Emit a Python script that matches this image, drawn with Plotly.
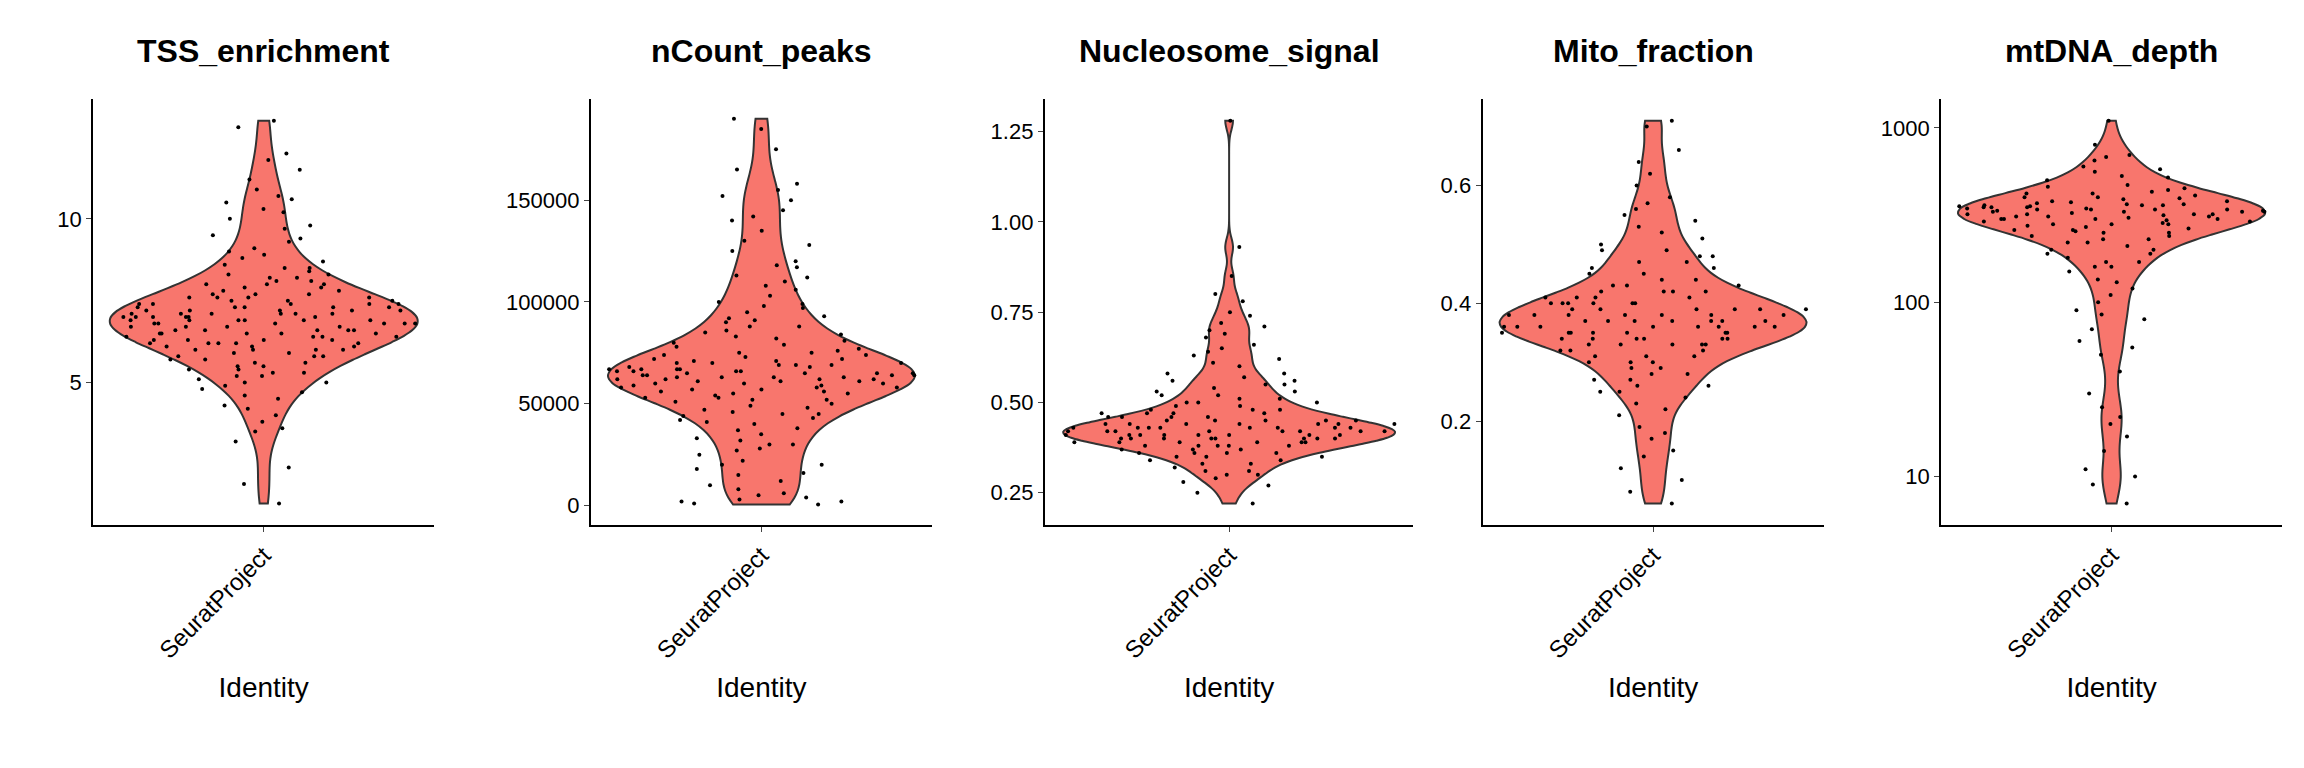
import numpy as np
import plotly.graph_objects as go

group = "SeuratProject"
titles = ["TSS_enrichment", "nCount_peaks", "Nucleosome_signal", "Mito_fraction", "mtDNA_depth"]

tss = [1.3, 1.9, 2.4, 3.2, 3.5, 3.8, 4.0, 4.3, 4.5, 4.7, 4.9, 5.0, 5.1, 5.2, 5.3, 5.4, 5.5, 5.5, 5.6, 5.7,
       5.8, 5.8, 5.9, 6.0, 6.0, 6.1, 6.1, 6.2, 6.2, 6.3, 6.3, 6.4, 6.4, 6.5, 6.5, 6.5, 6.6, 6.6, 6.7, 6.7,
       6.8, 6.8, 6.8, 6.9, 6.9, 6.9, 7.0, 7.0, 7.0, 7.1, 7.1, 7.1, 7.2, 7.2, 7.2, 7.3, 7.3, 7.4, 7.4, 7.5,
       7.5, 7.6, 7.6, 7.7, 7.7, 7.8, 7.9, 8.0, 8.0, 8.1, 8.2, 8.3, 8.4, 8.5, 8.6, 8.8, 9.0, 9.1, 9.3, 9.5,
       9.7, 10.0, 10.3, 10.5, 10.7, 10.9, 11.5, 11.8, 12.0, 12.8, 13.0, 6.6, 7.3, 6.2, 7.6, 5.9, 6.9, 7.1,
       4.6, 5.0, 5.3, 5.6, 5.8, 6.0, 6.2, 6.3, 6.4, 6.5, 6.6, 6.7, 6.8, 6.9, 7.0, 7.1, 7.2, 7.3, 7.4, 7.5,
       7.6, 7.8, 8.0, 8.2, 8.5, 8.9, 9.4, 10.2, 6.1, 6.5, 6.8, 7.0, 7.2, 7.4, 6.3, 6.7, 7.1, 5.7, 7.9, 8.3,
       4.8, 5.4, 6.0, 6.6, 7.0, 7.4, 8.1, 9.8, 10.6, 3.6, 4.2, 5.2, 6.4, 6.9, 7.3, 7.7, 8.7, 11.2, 6.2, 6.8]
ncount = [500, 1000, 2000, 3000, 5000, 8000, 10000, 15000, 18000, 20000, 22000, 25000, 28000, 30000, 32000,
          35000, 37000, 40000, 42000, 44000, 45000, 47000, 48000, 50000, 51000, 52000, 53000, 55000, 56000,
          57000, 58000, 59000, 60000, 60000, 61000, 62000, 62000, 63000, 63000, 64000, 64000, 65000, 65000,
          66000, 66000, 67000, 67000, 68000, 69000, 70000, 70000, 71000, 72000, 73000, 74000, 75000, 76000,
          78000, 80000, 82000, 84000, 86000, 88000, 90000, 92000, 95000, 98000, 100000, 103000, 106000,
          110000, 113000, 117000, 120000, 125000, 130000, 135000, 140000, 145000, 150000, 155000, 158000,
          165000, 175000, 185000, 190000, 58000, 63000, 67000, 61000, 65000, 69000, 55000, 64000,
          2000, 6000, 12000, 20000, 27000, 33000, 38000, 43000, 46000, 49000, 52000, 54000, 57000, 59000,
          61000, 63000, 64000, 66000, 68000, 70000, 72000, 75000, 79000, 83000, 88000, 93000, 99000, 108000,
          118000, 128000, 142000, 152000, 60000, 62000, 65000, 67000, 56000, 71000, 45000, 77000, 30000,
          85000, 97000, 112000, 4000, 16000, 41000, 53000, 58000, 62000, 66000, 69000, 74000, 81000, 91000]
nucleo = [0.22, 0.25, 0.27, 0.29, 0.30, 0.31, 0.32, 0.33, 0.34, 0.35, 0.35, 0.36, 0.36, 0.37, 0.37, 0.38,
          0.38, 0.38, 0.39, 0.39, 0.39, 0.40, 0.40, 0.40, 0.40, 0.41, 0.41, 0.41, 0.41, 0.42, 0.42, 0.42,
          0.42, 0.43, 0.43, 0.43, 0.43, 0.44, 0.44, 0.44, 0.45, 0.45, 0.45, 0.46, 0.46, 0.47, 0.47, 0.48,
          0.48, 0.49, 0.50, 0.50, 0.51, 0.52, 0.53, 0.54, 0.55, 0.56, 0.57, 0.58, 0.60, 0.62, 0.64, 0.66,
          0.68, 0.70, 0.72, 0.75, 0.78, 0.80, 0.85, 0.93, 1.28, 0.41, 0.43, 0.39, 0.44, 0.42, 0.40, 0.46,
          0.30, 0.33, 0.35, 0.36, 0.37, 0.38, 0.39, 0.40, 0.40, 0.41, 0.41, 0.42, 0.42, 0.43, 0.43, 0.44,
          0.44, 0.45, 0.46, 0.47, 0.48, 0.49, 0.51, 0.53, 0.55, 0.58, 0.61, 0.65, 0.69, 0.74, 0.38, 0.41,
          0.43, 0.45, 0.39, 0.42, 0.44, 0.40, 0.36, 0.47, 0.50, 0.52, 0.34, 0.31, 0.28, 0.56, 0.63, 0.71]
mito = [0.06, 0.08, 0.10, 0.12, 0.14, 0.17, 0.19, 0.21, 0.23, 0.24, 0.25, 0.26, 0.27, 0.28, 0.29, 0.30,
        0.30, 0.31, 0.31, 0.32, 0.32, 0.33, 0.33, 0.33, 0.34, 0.34, 0.34, 0.35, 0.35, 0.35, 0.35, 0.36,
        0.36, 0.36, 0.36, 0.37, 0.37, 0.37, 0.37, 0.38, 0.38, 0.38, 0.39, 0.39, 0.39, 0.40, 0.40, 0.40,
        0.41, 0.41, 0.42, 0.42, 0.43, 0.43, 0.44, 0.45, 0.46, 0.47, 0.48, 0.49, 0.50, 0.52, 0.54, 0.56,
        0.58, 0.60, 0.62, 0.66, 0.70, 0.71, 0.36, 0.38, 0.35, 0.37, 0.39, 0.34, 0.40, 0.33,
        0.22, 0.25, 0.27, 0.29, 0.31, 0.32, 0.33, 0.34, 0.35, 0.36, 0.36, 0.37, 0.38, 0.38, 0.39, 0.40,
        0.41, 0.42, 0.43, 0.44, 0.45, 0.47, 0.49, 0.51, 0.53, 0.57, 0.35, 0.37, 0.39, 0.41, 0.34, 0.36,
        0.38, 0.40, 0.42, 0.30, 0.28, 0.46, 0.48, 0.26, 0.18, 0.15, 0.55, 0.64]
mtdna = [7, 9, 10, 11, 14, 17, 20, 25, 30, 40, 50, 60, 70, 80, 90, 100, 110, 120, 135, 150, 160, 170,
         180, 190, 200, 210, 220, 230, 240, 250, 255, 260, 270, 275, 280, 285, 290, 295, 300, 305, 310,
         315, 320, 325, 330, 330, 335, 340, 340, 345, 350, 350, 355, 360, 365, 370, 380, 390, 400, 410,
         420, 430, 450, 470, 500, 530, 560, 600, 650, 700, 800, 1100, 320, 340, 310, 350, 330, 300, 360,
         130, 170, 200, 230, 250, 265, 280, 290, 300, 310, 320, 330, 335, 345, 355, 365, 375, 395, 420,
         460, 520, 580, 680, 300, 320, 340, 360, 280, 260, 380, 400, 240, 220, 440, 190, 160, 85, 55, 22]

series = [tss, ncount, nucleo, mito, np.log10(mtdna)]
doms = [(0.037, 0.185), (0.253, 0.401), (0.450, 0.610), (0.640, 0.788), (0.839, 0.987)]
bws = [0.55, 10000, 0.025, 0.025, 0.09]
dticks = [5, 50000, 0.25, 0.2, None]

fig = go.Figure()
for i, (vals, dom, bw) in enumerate(zip(series, doms, bws)):
    n = i + 1
    fig.add_trace(go.Violin(
        x=[group] * len(vals), y=vals, xaxis=f"x{n}", yaxis=f"y{n}",
        fillcolor="#F8766D", opacity=1, line=dict(color="#333333", width=2),
        points="all", pointpos=0, jitter=1, spanmode="hard", bandwidth=bw,
        marker=dict(color="black", size=4), width=0.75, showlegend=False,
        hoveron="violins+points",
    ))
    ax = dict(domain=list(dom), anchor=f"y{n}", showline=True, linecolor="black", linewidth=2,
              ticks="outside", tickangle=-45, tickfont=dict(size=24, color="black"),
              title=dict(text="Identity", font=dict(size=28, color="black")), showgrid=False,
              automargin=False)
    ay = dict(domain=[0.327, 0.881], anchor=f"x{n}", showline=True, linecolor="black", linewidth=2,
              ticks="outside", tickfont=dict(size=22, color="black"), showgrid=False, zeroline=False,
              automargin=False)
    if n == 5:
        ay.update(tickvals=[1, 2, 3], ticktext=["10", "100", "1000"])
    else:
        ay.update(dtick=dticks[i], tick0=0)
    if n == 2:
        ay.update(tickformat="d", range=[-9500, 199500])
    if n == 3:
        ay.update(tickformat=".2f")
    if n == 4:
        ay.update(tickformat=".1f")
    fig.update_layout({f"xaxis{n}" if n > 1 else "xaxis": ax, f"yaxis{n}" if n > 1 else "yaxis": ay})
    fig.add_annotation(text=f"<b>{titles[i]}</b>", x=(dom[0] + dom[1]) / 2, y=0.97, xref="paper",
                       yref="paper", xanchor="center", showarrow=False, font=dict(size=32, color="black"))

fig.update_layout(width=2304, height=768, plot_bgcolor="white", paper_bgcolor="white",
                  margin=dict(l=0, r=0, t=0, b=0), font=dict(family="Liberation Sans"))
fig.write_html("out.html")
